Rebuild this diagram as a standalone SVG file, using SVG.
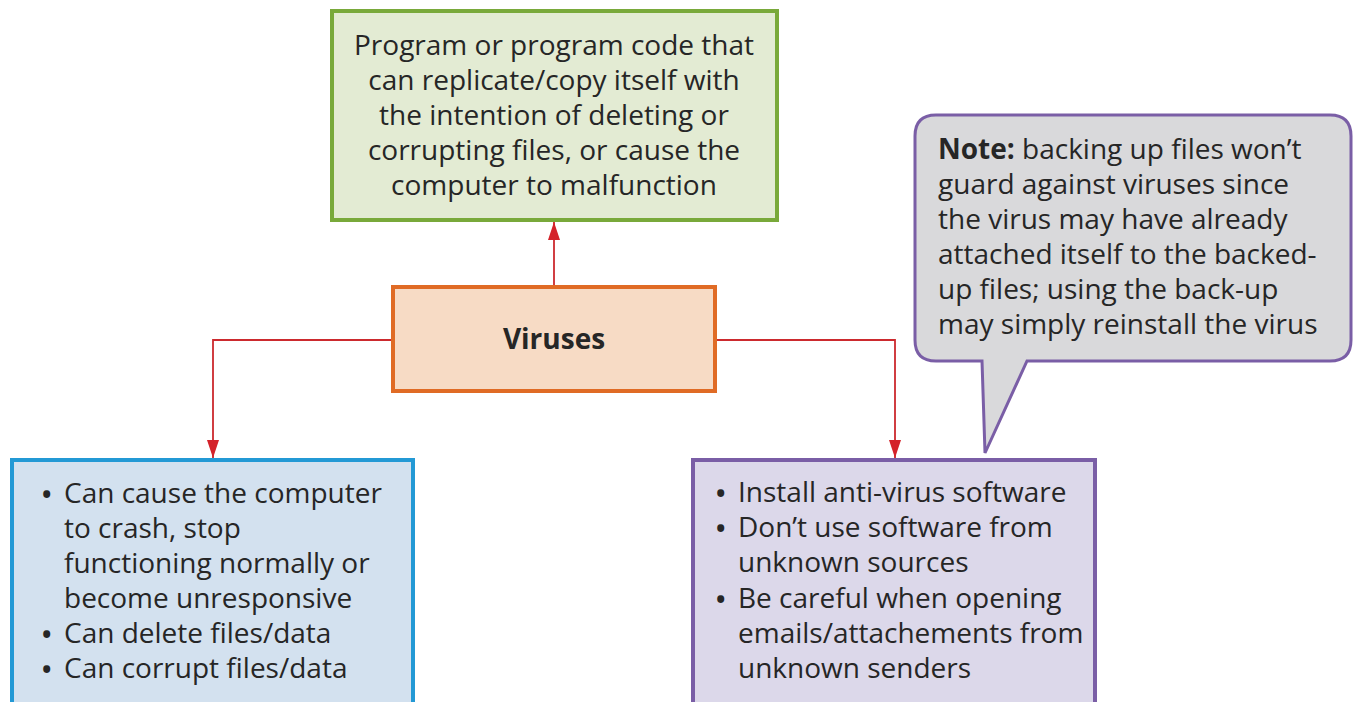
<svg xmlns="http://www.w3.org/2000/svg" width="1354" height="702" viewBox="0 0 1354 702">
<style>
text{font-family:"Open Sans","Noto Sans","Liberation Sans",sans-serif;font-size:28px;font-weight:normal;fill:#262626}
.c{text-anchor:middle}
.b{font-weight:bold}
.bl{font-weight:bold;font-size:25px}
.conn{fill:none;stroke:#cc2a2e;stroke-width:1.8}
</style>
<defs>
<marker id="ah" viewBox="0 0 18 12" refX="18" refY="6" markerWidth="18" markerHeight="12" markerUnits="userSpaceOnUse" orient="auto">
<path d="M0,0 L18,6 L0,12 Z" fill="#d4222a"/>
</marker>
</defs>
<rect width="1354" height="702" fill="#fff"/>
<g id="connectors">
<path class="conn" d="M554,285 V222" marker-end="url(#ah)"/>
<path class="conn" d="M391,340 H213 V458" marker-end="url(#ah)"/>
<path class="conn" d="M717,340 H895 V458" marker-end="url(#ah)"/>
</g>
<g id="definition">
<rect x="332" y="11" width="445" height="209" fill="#e3ebd3" stroke="#79a93a" stroke-width="4"/>
<text class="c" x="554" y="55">Program or program code that</text>
<text class="c" x="554" y="90">can replicate/copy itself with</text>
<text class="c" x="554" y="125">the intention of deleting or</text>
<text class="c" x="554" y="160">corrupting files, or cause the</text>
<text class="c" x="554" y="195">computer to malfunction</text>
</g>
<g id="viruses">
<rect x="393" y="287" width="322" height="104" fill="#f7dbc5" stroke="#e06b25" stroke-width="4"/>
<text class="c b" x="554" y="349">Viruses</text>
</g>
<g id="effects">
<rect x="12" y="460" width="401" height="260" fill="#d3e1ef" stroke="#2399d5" stroke-width="4"/>
<text x="42" y="503"><tspan class="bl">•</tspan><tspan x="64">Can cause the computer</tspan></text>
<text x="64" y="538">to crash, stop</text>
<text x="64" y="573">functioning normally or</text>
<text x="64" y="608">become unresponsive</text>
<text x="42" y="643"><tspan class="bl">•</tspan><tspan x="64">Can delete files/data</tspan></text>
<text x="42" y="678"><tspan class="bl">•</tspan><tspan x="64">Can corrupt files/data</tspan></text>
</g>
<g id="prevention">
<rect x="693" y="460" width="402" height="260" fill="#dcd8ea" stroke="#7a5ea6" stroke-width="4"/>
<text x="716" y="502"><tspan class="bl">•</tspan><tspan x="738">Install anti-virus software</tspan></text>
<text x="716" y="537"><tspan class="bl">•</tspan><tspan x="738">Don’t use software from</tspan></text>
<text x="738" y="572">unknown sources</text>
<text x="716" y="608"><tspan class="bl">•</tspan><tspan x="738">Be careful when opening</tspan></text>
<text x="738" y="643">emails/attachements from</text>
<text x="738" y="678">unknown senders</text>
</g>
<g id="note">
<path d="M936,115 H1330 Q1351,115 1351,136 V340 Q1351,361 1330,361 H1027 L985,453 L982,361 H936 Q915,361 915,340 V136 Q915,115 936,115 Z" fill="#d9d9db" stroke="#7a5ea6" stroke-width="3"/>
<text x="938" y="159"><tspan class="b">Note:</tspan> backing up files won’t</text>
<text x="938" y="194">guard against viruses since</text>
<text x="938" y="229">the virus may have already</text>
<text x="938" y="264">attached itself to the backed-</text>
<text x="938" y="299">up files; using the back-up</text>
<text x="938" y="334">may simply reinstall the virus</text>
</g>
</svg>
